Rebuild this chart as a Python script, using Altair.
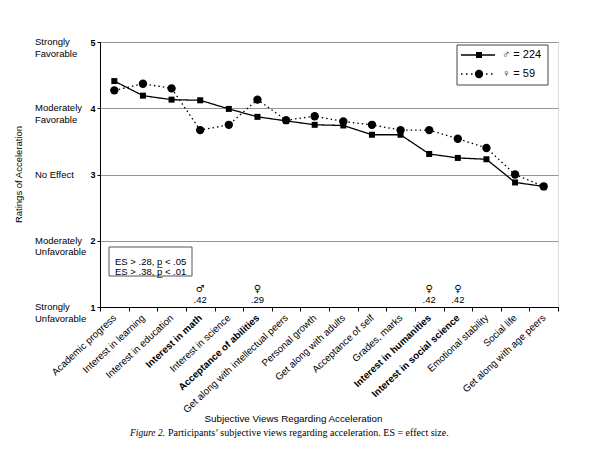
import altair as alt
import pandas as pd

categories = ["Academic progress", "Interest in learning", "Interest in education",
              "Interest in math", "Interest in science", "Acceptance of abilities",
              "Get along with intellectual peers", "Personal growth", "Get along with adults",
              "Acceptance of self", "Grades, marks", "Interest in humanities",
              "Interest in social science", "Emotional stability", "Social life",
              "Get along with age peers"]
male_values = [4.41, 4.19, 4.13, 4.12, 3.99, 3.87, 3.81, 3.75, 3.74, 3.60, 3.60, 3.31, 3.25, 3.23, 2.88, 2.82]
female_values = [4.27, 4.37, 4.30, 3.67, 3.75, 4.13, 3.82, 3.88, 3.80, 3.75, 3.67, 3.67, 3.54, 3.40, 3.00, 2.82]
series_names = ["\u2642 = 224", "\u2640 = 59"]
bold_categories = ["Interest in math", "Acceptance of abilities", "Interest in humanities", "Interest in social science"]
es_categories = ["Interest in math", "Acceptance of abilities", "Interest in humanities", "Interest in social science"]
es_symbols = ["\u2642", "\u2640", "\u2640", "\u2640"]
es_values = [".42", ".29", ".42", ".42"]
rating_values = [5, 4, 3, 2, 1]
rating_labels = ["Strongly\nFavorable", "Moderately\nFavorable", "No Effect",
                 "Moderately\nUnfavorable", "Strongly\nUnfavorable"]
es_notes = ["ES > .28, p\u0332 < .05", "ES > .38, p\u0332 < .01"]
caption_label = "Figure 2."
caption_text = "Participants\u2019 subjective views regarding acceleration. ES = effect size."

FONT = "Liberation Sans"

df = pd.DataFrame({
    "category": categories * 2,
    "value": male_values + female_values,
    "series": [series_names[0]] * len(categories) + [series_names[1]] * len(categories),
})

xscale = alt.Scale(type="band", domain=categories, paddingInner=0, paddingOuter=0)
yscale = alt.Scale(domain=[1, 5], nice=False, zero=False)

bold_test = "indexof([" + ",".join("'" + c + "'" for c in bold_categories) + "], datum.value) >= 0"

x_main = alt.X("category:N", sort=categories, scale=xscale, axis=alt.Axis(
    title="Subjective Views Regarding Acceleration", labelAngle=-43, labelAlign="right",
    labelBaseline="middle", labelPadding=5, tickBand="extent", tickSize=4, labelFontSize=9.8,
    labelFontWeight={"condition": {"test": bold_test, "value": "bold"}, "value": "normal"},
    labelOverlap=False, labelColor="black", tickColor="black", domainColor="black",
    titleY=111, titleX=193, titleAlign="center", titleBaseline="middle", titleFontSize=9.8,
    titleFontWeight="normal", titleColor="black", grid=False))

y_main = alt.Y("value:Q", scale=yscale, axis=alt.Axis(
    values=[1, 2, 3, 4, 5], format="d", title="Ratings of Acceleration", titleX=-82, titleY=132,
    titleAngle=270, titleAlign="center", titleBaseline="middle", titleFontSize=9.5,
    titleFontWeight="normal", titleColor="black", labelFontSize=9, labelFontWeight="bold",
    labelPadding=2, tickSize=3, labelColor="black", tickColor="black", domainColor="black",
    grid=True, gridColor="#8a8a8a", gridWidth=0.9))

lines = alt.Chart(df).mark_line(color="black", strokeWidth=1.3).encode(
    x=x_main, y=y_main,
    strokeDash=alt.StrokeDash("series:N", scale=alt.Scale(domain=series_names, range=[[1, 0], [1.5, 3]]), legend=None),
)

male_pts = alt.Chart(df).transform_filter(alt.datum.series == series_names[0]).mark_point(
    shape="square", filled=True, color="black", size=36, opacity=1).encode(
    x=alt.X("category:N", sort=categories, scale=xscale), y=alt.Y("value:Q", scale=yscale))

female_pts = alt.Chart(df).transform_filter(alt.datum.series == series_names[1]).mark_point(
    shape="circle", filled=True, color="black", size=70, opacity=1).encode(
    x=alt.X("category:N", sort=categories, scale=xscale), y=alt.Y("value:Q", scale=yscale))

# legend (drawn by hand)
one = pd.DataFrame({"a": [0]})
leg_box = alt.Chart(one).mark_rect(fill="white", stroke="#444", strokeWidth=1).encode(
    x=alt.value(357), x2=alt.value(448), y=alt.value(3), y2=alt.value(43))
leg_m_line = alt.Chart(one).mark_rule(color="black", strokeWidth=1.3).encode(
    x=alt.value(361), x2=alt.value(395), y=alt.value(13))
leg_f_line = alt.Chart(one).mark_rule(color="black", strokeWidth=1.3, strokeDash=[1.5, 3.5]).encode(
    x=alt.value(361), x2=alt.value(395), y=alt.value(32))
leg_m_pt = alt.Chart(one).mark_point(shape="square", filled=True, color="black", size=36, opacity=1).encode(
    x=alt.value(379), y=alt.value(13))
leg_f_pt = alt.Chart(one).mark_point(shape="circle", filled=True, color="black", size=70, opacity=1).encode(
    x=alt.value(379), y=alt.value(32))
leg_df = pd.DataFrame({"m": [series_names[0]], "f": [series_names[1]]})
leg_m_txt = alt.Chart(leg_df).mark_text(align="left", baseline="middle", fontSize=11, font=FONT, color="black").encode(
    x=alt.value(402), y=alt.value(13), text="m:N")
leg_f_txt = alt.Chart(leg_df).mark_text(align="left", baseline="middle", fontSize=11, font=FONT, color="black").encode(
    x=alt.value(402), y=alt.value(32), text="f:N")

ylab_df = pd.DataFrame({"value": rating_values, "label": rating_labels})
ylabels = alt.Chart(ylab_df).mark_text(align="left", baseline="middle", lineBreak="\n",
                                       fontSize=9.5, lineHeight=11.5, font=FONT, color="black").encode(
    x=alt.value(-65), y=alt.Y("value:Q", scale=yscale), text="label:N")

es_df = pd.DataFrame({"category": es_categories, "sym": es_symbols, "es": es_values})
es_sym = alt.Chart(es_df).mark_text(fontSize=10, font="DejaVu Sans", color="black").encode(
    x=alt.X("category:N", sort=categories, scale=xscale), y=alt.value(247), text="sym:N")
es_val = alt.Chart(es_df).mark_text(fontSize=9.5, font=FONT, color="black").encode(
    x=alt.X("category:N", sort=categories, scale=xscale), y=alt.value(258), text="es:N")

box = alt.Chart(one).mark_rect(fill="white", stroke="#555", strokeWidth=1).encode(
    x=alt.value(9), x2=alt.value(92), y=alt.value(205), y2=alt.value(234))
notes = alt.Chart(pd.DataFrame({"t": ["\n".join(es_notes)]})).mark_text(
    align="left", baseline="middle", lineBreak="\n", fontSize=9.5, lineHeight=10.5, font=FONT,
    color="black").encode(x=alt.value(15), y=alt.value(219.5), text="t:N")

cap_df = pd.DataFrame({"a": [caption_label], "b": [caption_text]})
cap1 = alt.Chart(cap_df).mark_text(align="left", baseline="middle", fontSize=9.5, font="Liberation Serif",
                                   fontStyle="italic", color="black").encode(
    x=alt.value(30), y=alt.value(391), text="a:N")
cap2 = alt.Chart(cap_df).mark_text(align="left", baseline="middle", fontSize=10, font="Liberation Serif",
                                   color="black").encode(
    x=alt.value(68), y=alt.value(391), text="b:N")

chart = alt.layer(lines, male_pts, female_pts, leg_box, leg_m_line, leg_f_line, leg_m_pt, leg_f_pt,
                  leg_m_txt, leg_f_txt, ylabels, es_sym, es_val, box, notes, cap1, cap2).properties(
    width=458, height=265,
    autosize=alt.AutoSizeParams(type="none"),
    padding={"left": 92, "top": 34, "right": 34, "bottom": 142},
    background="white",
).configure_view(stroke="black", strokeWidth=1).configure(font=FONT)

chart.save("out.html", embed_options={"renderer": "svg", "actions": False})
